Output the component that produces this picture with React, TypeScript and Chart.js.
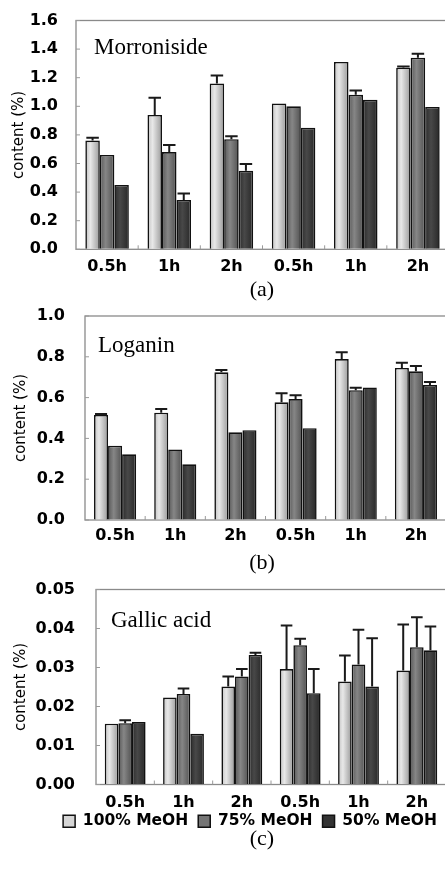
import { useEffect, useRef } from 'react';
import { Chart, registerables } from 'chart.js';
Chart.register(...registerables);

// ---------- data ----------
const categories = ['0.5h', '1h', '2h', '0.5h', '1h', '2h'];
const seriesNames = ['100% MeOH', '75% MeOH', '50% MeOH'];

// (a) Morroniside
const morroniside100 = [0.76, 0.94, 1.16, 1.02, 1.31, 1.27];
const morroniside75 = [0.66, 0.68, 0.77, 1.0, 1.08, 1.34];
const morroniside50 = [0.45, 0.345, 0.55, 0.85, 1.045, 0.995];
const morroniside100Err = [0.02, 0.12, 0.055, 0, 0, 0.008];
const morroniside75Err = [0, 0.05, 0.02, 0, 0.03, 0.028];
const morroniside50Err = [0, 0.045, 0.047, 0, 0, 0];
const morronisideTicks = { min: 0, max: 1.6, step: 0.2, decimals: 1 };

// (b) Loganin
const loganin100 = [0.515, 0.526, 0.724, 0.577, 0.789, 0.745];
const loganin75 = [0.364, 0.346, 0.43, 0.593, 0.636, 0.729];
const loganin50 = [0.322, 0.273, 0.44, 0.45, 0.65, 0.662];
const loganin100Err = [0.005, 0.018, 0.011, 0.044, 0.033, 0.026];
const loganin75Err = [0, 0, 0, 0.018, 0.012, 0.026];
const loganin50Err = [0, 0, 0, 0, 0, 0.014];
const loganinTicks = { min: 0, max: 1.0, step: 0.2, decimals: 1 };

// (c) Gallic acid
const gallic100 = [0.0156, 0.0223, 0.0251, 0.0296, 0.0264, 0.0292];
const gallic75 = [0.0157, 0.0232, 0.0277, 0.0357, 0.0308, 0.0352];
const gallic50 = [0.016, 0.013, 0.0332, 0.0234, 0.0251, 0.0344];
const gallic100Err = [0, 0, 0.0026, 0.0112, 0.0067, 0.0118];
const gallic75Err = [0.0008, 0.0014, 0.0019, 0.0017, 0.0089, 0.0077];
const gallic50Err = [0, 0, 0.0006, 0.0062, 0.0124, 0.0061];
const gallicTicks = { min: 0, max: 0.05, step: 0.01, decimals: 2 };

// ---------- styles ----------
const CAT_PCT = 0.7;
const gradStops = [
  [[0, '#c2c2c2'], [0.35, '#e8e8e8'], [1, '#9a9a9a']],
  [[0, '#585858'], [0.4, '#868686'], [1, '#525252']],
  [[0, '#2c2c2c'], [0.4, '#484848'], [1, '#282828']],
];
const solidFill = ['#d6d6d6', '#757575', '#333333'];
const tickFont = { family: 'DejaVu Sans', size: 16, weight: 'bold' as const };
const legendFont = { family: 'DejaVu Sans', size: 15.5, weight: 'bold' as const };

function barBg(ctx: any) {
  const di = ctx.datasetIndex;
  if (ctx.type !== 'data') return solidFill[di];
  const chart = ctx.chart;
  const xs = chart.scales && chart.scales.x;
  if (!xs || !xs.width || !isFinite(xs.width)) return solidFill[di];
  const catW = xs.width / categories.length;
  const groupW = catW * CAT_PCT;
  const barW = groupW / 3;
  const center = xs.getPixelForValue(ctx.dataIndex);
  const left = center - groupW / 2 + di * barW;
  if (!isFinite(left)) return solidFill[di];
  const g = chart.ctx.createLinearGradient(left, 0, left + barW, 0);
  for (const [o, c] of gradStops[di] as any) g.addColorStop(o, c);
  return g;
}

const errorBarsPlugin = {
  id: 'errbars',
  afterDatasetsDraw(chart: any, _args: any, opts: any) {
    const errs = opts.errors as number[][];
    if (!errs) return;
    const ctx = chart.ctx;
    const ys = chart.scales.y;
    ctx.save();
    ctx.strokeStyle = '#1a1a1a';
    ctx.lineWidth = 2;
    chart.data.datasets.forEach((ds: any, di: number) => {
      const meta = chart.getDatasetMeta(di);
      meta.data.forEach((bar: any, i: number) => {
        const e = errs[di][i];
        if (!e) return;
        const v = ds.data[i];
        const yTop = ys.getPixelForValue(v + e);
        const p = bar.getProps(['x', 'y', 'width'], true);
        ctx.beginPath();
        ctx.moveTo(p.x, p.y);
        ctx.lineTo(p.x, yTop);
        ctx.moveTo(p.x - p.width / 2 + 1, yTop);
        ctx.lineTo(p.x + p.width / 2 - 1, yTop);
        ctx.stroke();
      });
    });
    ctx.restore();
  },
};

const framePlugin = {
  id: 'frame',
  beforeDatasetsDraw(chart: any) {
    const { ctx, chartArea: a, scales } = chart;
    ctx.save();
    ctx.strokeStyle = '#8a8a8a';
    ctx.lineWidth = 1.3;
    ctx.strokeRect(a.left, a.top, a.right - a.left, a.bottom - a.top);
    ctx.lineWidth = 1;
    ctx.strokeStyle = '#9a9a9a';
    const xs = scales.x;
    const catW = xs.width / categories.length;
    ctx.beginPath();
    for (let i = 1; i < categories.length; i++) {
      const x = xs.getPixelForValue(i) - catW / 2;
      ctx.moveTo(x, a.bottom);
      ctx.lineTo(x, a.bottom - 4);
    }
    const ys = scales.y;
    ys.ticks.forEach((t: any) => {
      const y = ys.getPixelForValue(t.value);
      ctx.moveTo(a.left, y);
      ctx.lineTo(a.left + 4, y);
    });
    ctx.stroke();
    ctx.restore();
  },
};

const legendShiftPlugin = {
  id: 'legendShift',
  afterLayout(chart: any, _args: any, opts: any) {
    const lg = chart.legend;
    if (!lg || !opts || !opts.enabled) return;
    lg.left += opts.dx;
    lg.right += opts.dx;
    lg.top += opts.dy;
    lg.bottom += opts.dy;
  },
};

type PanelProps = {
  top: number;
  width: number;
  height: number;
  padTop: number;
  padRight: number;
  padBottom: number;
  yWidth: number;
  yTickGap: number;
  titlePad: number;
  xHeight: number;
  xTickPad: number;
  ticks: { min: number; max: number; step: number; decimals: number };
  series: number[][];
  errors: number[][];
  legend: boolean;
  legendDx?: number;
  legendDy?: number;
};

function Panel(p: PanelProps) {
  const ref = useRef<HTMLCanvasElement>(null);
  useEffect(() => {
    if (!ref.current) return;
    const chart = new Chart(ref.current, {
      type: 'bar',
      data: {
        labels: categories,
        datasets: p.series.map((d, i) => ({
          label: seriesNames[i],
          data: d,
          backgroundColor: barBg,
          borderColor: '#111111',
          borderWidth: 1.6,
          categoryPercentage: CAT_PCT,
          barPercentage: 1.0,
        })),
      },
      options: {
        responsive: false,
        animation: false,
        events: [],
        layout: { padding: { top: p.padTop, right: p.padRight, left: 0, bottom: p.padBottom } },
        plugins: {
          tooltip: { enabled: false },
          legend: {
            display: p.legend,
            position: 'bottom',
            labels: {
              font: legendFont,
              color: '#000',
              boxWidth: 12,
              boxHeight: 12,
              padding: 10,
              generateLabels: () =>
                seriesNames.map((n, i) => ({
                  text: n,
                  fillStyle: solidFill[i],
                  strokeStyle: '#111',
                  lineWidth: 1.5,
                  hidden: false,
                  datasetIndex: i,
                })),
            },
          },
          errbars: { errors: p.errors },
          legendShift: { enabled: p.legend, dx: p.legendDx || 0, dy: p.legendDy || 0 },
        } as any,
        scales: {
          x: {
            grid: { display: false, drawTicks: false },
            border: { display: false },
            ticks: { font: tickFont, color: '#000', padding: p.xTickPad, maxRotation: 0 },
            afterFit: (s: any) => {
              s.height = p.xHeight;
            },
          },
          y: {
            min: p.ticks.min,
            max: p.ticks.max,
            grid: {
              display: true,
              drawOnChartArea: false,
              drawTicks: true,
              tickLength: p.yTickGap,
              color: 'rgba(0,0,0,0)',
            },
            border: { display: false },
            ticks: {
              stepSize: p.ticks.step,
              font: tickFont,
              color: '#000',
              padding: 0,
              callback: (v: any) => Number(v).toFixed(p.ticks.decimals),
            },
            title: {
              display: true,
              text: 'content (%)',
              color: '#000',
              font: { family: 'DejaVu Sans', size: 15 },
              padding: { top: p.titlePad, bottom: 0 },
            },
            afterFit: (s: any) => {
              s.width = p.yWidth;
            },
          },
        },
      },
      plugins: [framePlugin, errorBarsPlugin, legendShiftPlugin],
    });
    return () => chart.destroy();
  }, []);
  return (
    <canvas
      ref={ref}
      width={p.width}
      height={p.height}
      style={{ position: 'absolute', left: 0, top: p.top, width: p.width, height: p.height }}
    />
  );
}

const serif = "'Liberation Serif', 'Times New Roman', serif";

function Label({ text, left, baseline, size }: { text: string; left: number; baseline: number; size: number }) {
  return (
    <div
      style={{
        position: 'absolute',
        left,
        top: baseline - size * 0.837,
        fontFamily: serif,
        fontSize: size,
        lineHeight: 1,
        color: '#000',
        whiteSpace: 'nowrap',
      }}
    >
      {text}
    </div>
  );
}

function Caption({ text, baseline }: { text: string; baseline: number }) {
  const size = 22;
  return (
    <div
      style={{
        position: 'absolute',
        left: 162,
        width: 200,
        textAlign: 'center',
        top: baseline - size * 0.837,
        fontFamily: serif,
        fontSize: size,
        lineHeight: 1,
        color: '#000',
      }}
    >
      {text}
    </div>
  );
}

export default function App() {
  return (
    <div
      style={{
        position: 'absolute',
        left: 0,
        top: 0,
        width: 445,
        height: 869,
        overflow: 'hidden',
        background: '#fff',
      }}
    >
      <Panel
        top={0}
        width={450}
        height={280}
        padTop={20.5}
        padRight={1}
        padBottom={0}
        yWidth={76}
        yTickGap={18}
        titlePad={10}
        xHeight={30.7}
        xTickPad={8}
        ticks={morronisideTicks}
        series={[morroniside100, morroniside75, morroniside50]}
        errors={[morroniside100Err, morroniside75Err, morroniside50Err]}
        legend={false}
      />
      <Panel
        top={296}
        width={450}
        height={254}
        padTop={20}
        padRight={4}
        padBottom={0}
        yWidth={85}
        yTickGap={20}
        titlePad={12}
        xHeight={30}
        xTickPad={6}
        ticks={loganinTicks}
        series={[loganin100, loganin75, loganin50]}
        errors={[loganin100Err, loganin75Err, loganin50Err]}
        legend={false}
      />
      <Panel
        top={570}
        width={450}
        height={278}
        padTop={19.5}
        padRight={4}
        padBottom={0}
        yWidth={96}
        yTickGap={21}
        titlePad={12}
        xHeight={28}
        xTickPad={9}
        ticks={gallicTicks}
        series={[gallic100, gallic75, gallic50]}
        errors={[gallic100Err, gallic75Err, gallic50Err]}
        legend={true}
        legendDx={27}
        legendDy={-9}
      />
      <Label text="Morroniside" left={94} baseline={54.3} size={23} />
      <Label text="Loganin" left={98} baseline={352.7} size={23} />
      <Label text="Gallic acid" left={111} baseline={627} size={23} />
      <Caption text="(a)" baseline={296.6} />
      <Caption text="(b)" baseline={569.6} />
      <Caption text="(c)" baseline={845} />
    </div>
  );
}
